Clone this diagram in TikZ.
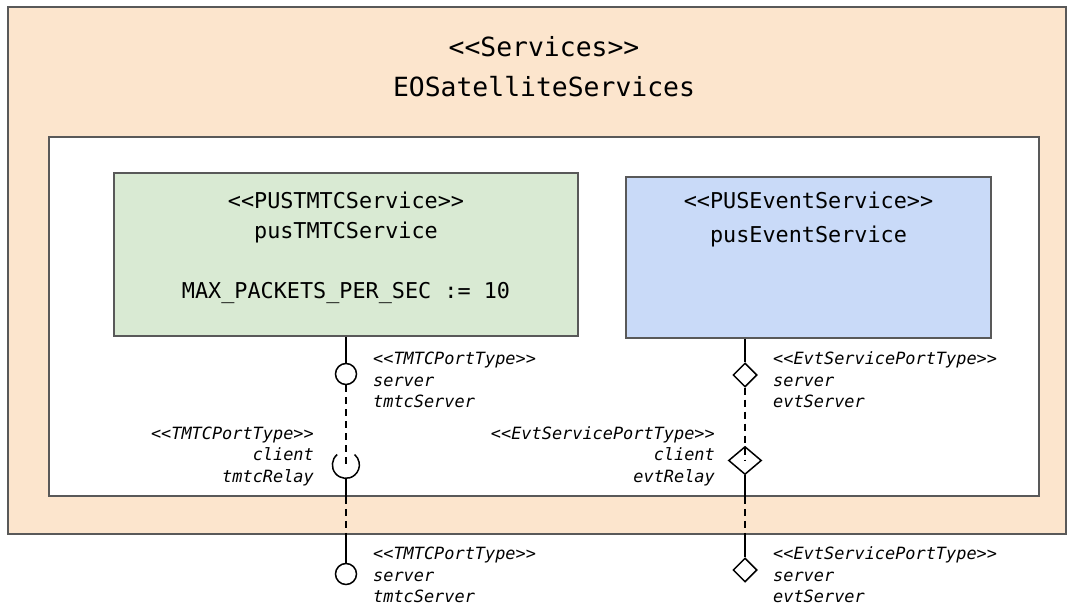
\documentclass[tikz,border=0pt]{standalone}
\usepackage{fontspec}
\setmonofont{DejaVu Sans Mono}
\usepackage{tikz}
\usetikzlibrary{shapes.geometric}
\definecolor{peach}{HTML}{FCE5CD}
\definecolor{tmtcgreen}{HTML}{D9EAD3}
\definecolor{evtblue}{HTML}{C9DAF8}
\definecolor{boxline}{HTML}{595959}

\begin{document}
\begin{tikzpicture}[x=1pt, y=1pt,
	box/.style={draw=boxline, line width=1.6pt, rectangle, inner sep=0pt},
	titulo/.style={font=\ttfamily\fontsize{26.4}{40}\selectfont, align=center, inner sep=0pt},
	texto/.style={font=\ttfamily\fontsize{21.8}{30}\selectfont, align=center, inner sep=0pt},
	portlab/.style={font=\ttfamily\itshape\fontsize{16.9}{21.5}\selectfont, inner sep=0pt},
	lolli/.style={draw, circle, line width=1.5pt, minimum size=21pt, inner sep=0pt},
	dport/.style={draw, diamond, line width=1.5pt, minimum width=24pt, minimum height=24pt, inner sep=0pt},
	fio/.style={line width=1.5pt},
	fiotr/.style={line width=1.5pt, dash pattern=on 7pt off 5pt}
	]
	\useasboundingbox (0,0) rectangle (1074,607);

	\node[box, fill=peach, minimum width=1058pt, minimum height=527pt] (outer) at (537,336.5) {};
	\node[titulo] (titulo) at (544,540) {<<Services>>\\EOSatelliteServices};
	\node[box, fill=white, minimum width=990pt, minimum height=359pt] (inner) at (544,290.5) {};

	\node[box, fill=tmtcgreen, minimum width=464pt, minimum height=163pt] (tmtc) at (346,352.5) {};
	\node[texto] (tmtctxt) at (346,359) {<<PUSTMTCService>>\\pusTMTCService\\[30pt]MAX\_PACKETS\_PER\_SEC := 10};
	\node[box, fill=evtblue, minimum width=365pt, minimum height=161pt] (evt) at (808.5,349.5) {};
	\node[texto, font=\ttfamily\fontsize{21.8}{34}\selectfont] (evttxt) at (808.5,388) {<<PUSEventService>>\\pusEventService};

	% portas TMTC
	\node[lolli] (srvT) at (346,233) {};
	\node[circle, minimum size=27pt, inner sep=0pt] (relayT) at (346,142) {};
	\node[lolli] (outT) at (346,33) {};
	\node[portlab, anchor=west, align=left] (srvTlab) at (373,227) {<<TMTCPortType>>\\server\\tmtcServer};
	\node[portlab, anchor=east, align=right] (relayTlab) at (314,151) {<<TMTCPortType>>\\client\\tmtcRelay};
	\node[portlab, anchor=west, align=left] (outTlab) at (373,32) {<<TMTCPortType>>\\server\\tmtcServer};

	% portas de eventos
	\node[dport] (srvE) at (745,232) {};
	\node[dport, minimum width=33pt, minimum height=28pt] (relayE) at (745,146.5) {};
	\node[dport] (outE) at (745,37) {};
	\node[portlab, anchor=west, align=left] (srvElab) at (773,227) {<<EvtServicePortType>>\\server\\evtServer};
	\node[portlab, anchor=east, align=right] (relayElab) at (715,151) {<<EvtServicePortType>>\\client\\evtRelay};
	\node[portlab, anchor=west, align=left] (outElab) at (773,32) {<<EvtServicePortType>>\\server\\evtServer};

	\coordinate (cTa) at (relayT |- inner.south);
	\coordinate (cTb) at (relayT |- outer.south);
	\coordinate (cEa) at (relayE |- inner.south);
	\coordinate (cEb) at (relayE |- outer.south);

	\draw[fio] (tmtc.south) -- (srvT.north);
	\draw[fiotr] (srvT.south) -- (relayT.center);
	\draw[fio] (relayT.130) arc[start angle=130, end angle=410, radius=13.5pt];
	\draw[fio] (relayT.south) -- (cTa);
	\draw[fiotr] (cTa) -- (cTb);
	\draw[fio] (cTb) -- (outT.north);

	\draw[fio] (srvE |- evt.south) -- (srvE.north);
	\draw[fiotr] (srvE.south) -- (relayE.center);
	\draw[fio] (relayE.south) -- (cEa);
	\draw[fiotr] (cEa) -- (cEb);
	\draw[fio] (cEb) -- (outE.north);
\end{tikzpicture}
\end{document}
